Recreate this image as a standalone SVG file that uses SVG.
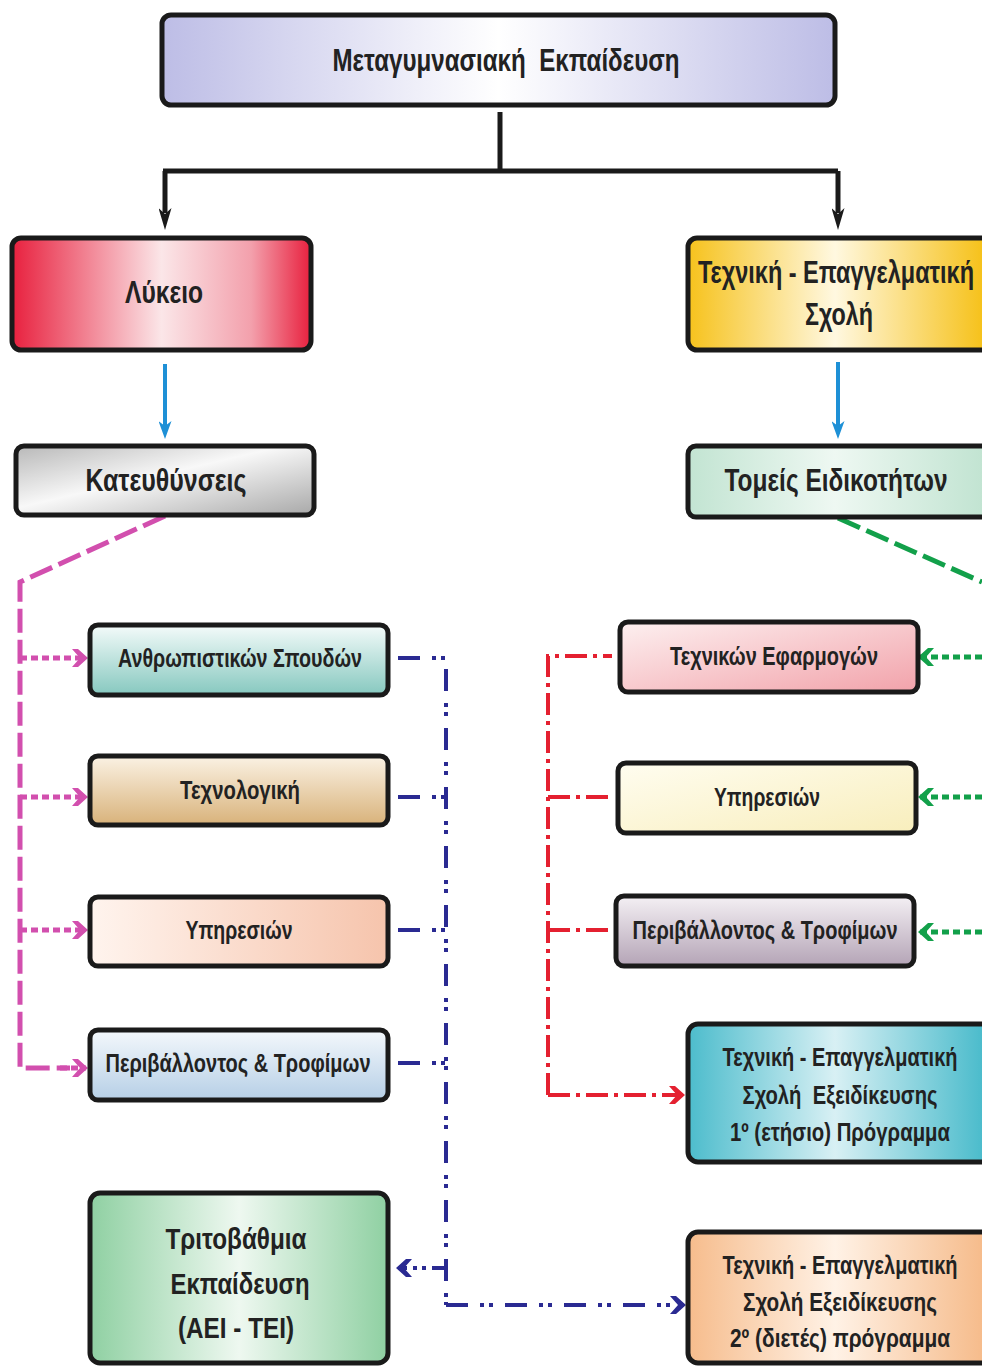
<svg xmlns="http://www.w3.org/2000/svg" width="982" height="1368" viewBox="0 0 982 1368">
<defs>
<linearGradient id="gLav" x1="0" y1="0" x2="1" y2="0"><stop offset="0" stop-color="#bdbde6"/><stop offset="0.5" stop-color="#ffffff"/><stop offset="1" stop-color="#bdbde6"/></linearGradient>
<linearGradient id="gRed" x1="0" y1="0" x2="1" y2="0"><stop offset="0" stop-color="#e8203e"/><stop offset="0.5" stop-color="#fbe6e8"/><stop offset="0.8" stop-color="#f3a0ac"/><stop offset="1" stop-color="#e8203e"/></linearGradient>
<linearGradient id="gYel" x1="0" y1="0" x2="1" y2="0"><stop offset="0" stop-color="#f6c21c"/><stop offset="0.5" stop-color="#fff8e0"/><stop offset="1" stop-color="#f6c21c"/></linearGradient>
<linearGradient id="gGrey" x1="0" y1="0" x2="1" y2="1"><stop offset="0" stop-color="#b8b8b8"/><stop offset="0.45" stop-color="#f8f8f8"/><stop offset="1" stop-color="#a8a8a8"/></linearGradient>
<linearGradient id="gMint" x1="0" y1="0" x2="1" y2="0"><stop offset="0" stop-color="#c2e4d2"/><stop offset="0.5" stop-color="#eef8f2"/><stop offset="1" stop-color="#c2e4d2"/></linearGradient>
<linearGradient id="gTeal" x1="0" y1="0" x2="0" y2="1"><stop offset="0" stop-color="#f4fbfa"/><stop offset="1" stop-color="#86c8bf"/></linearGradient>
<linearGradient id="gTan" x1="0" y1="0" x2="0" y2="1"><stop offset="0" stop-color="#fbf2e4"/><stop offset="1" stop-color="#d8b27a"/></linearGradient>
<linearGradient id="gPeach" x1="0" y1="0" x2="1" y2="0"><stop offset="0" stop-color="#fff4ee"/><stop offset="1" stop-color="#f6c4ac"/></linearGradient>
<linearGradient id="gSky" x1="0" y1="0" x2="0" y2="1"><stop offset="0" stop-color="#f4f8fc"/><stop offset="1" stop-color="#b6cfe6"/></linearGradient>
<linearGradient id="gGreen" x1="0" y1="0" x2="1" y2="0"><stop offset="0" stop-color="#8fd0a2"/><stop offset="0.5" stop-color="#eef8f0"/><stop offset="1" stop-color="#8fd0a2"/></linearGradient>
<linearGradient id="gPink" x1="0" y1="0" x2="1" y2="1"><stop offset="0" stop-color="#fdf0f0"/><stop offset="1" stop-color="#f2a2aa"/></linearGradient>
<linearGradient id="gCream" x1="0" y1="0" x2="1" y2="1"><stop offset="0" stop-color="#fffdf0"/><stop offset="1" stop-color="#f8eebc"/></linearGradient>
<linearGradient id="gMauve" x1="0" y1="0" x2="0" y2="1"><stop offset="0" stop-color="#f4f0f4"/><stop offset="1" stop-color="#b4a4b6"/></linearGradient>
<linearGradient id="gCyan" x1="0" y1="0" x2="1" y2="0"><stop offset="0" stop-color="#4cbccc"/><stop offset="0.5" stop-color="#d8f0f4"/><stop offset="1" stop-color="#4cbccc"/></linearGradient>
<linearGradient id="gOrange" x1="0" y1="0" x2="1" y2="0"><stop offset="0" stop-color="#f6bc8c"/><stop offset="0.5" stop-color="#fff2e6"/><stop offset="1" stop-color="#f6bc8c"/></linearGradient>
<marker id="mBlack" markerUnits="userSpaceOnUse" markerWidth="22" markerHeight="13" refX="5" refY="6.5" viewBox="0 0 22 13" orient="auto"><path d="M0,0 L22,6.5 L0,13 L6,6.5 z" fill="#1a1a1a"/></marker>
<marker id="mBlue" markerUnits="userSpaceOnUse" markerWidth="18" markerHeight="13" refX="5" refY="6.5" viewBox="0 0 18 13" orient="auto"><path d="M0,0 L18,6.5 L0,13 L5,6.5 z" fill="#1e90d6"/></marker>
<marker id="mMag" markerUnits="userSpaceOnUse" markerWidth="16" markerHeight="18" refX="14" refY="9" viewBox="0 0 16 18" orient="auto"><path d="M0,0 L6,0 L16,9 L6,18 L0,18 L8,9 z" fill="#d24fae"/></marker>
<marker id="mGreen" markerUnits="userSpaceOnUse" markerWidth="16" markerHeight="18" refX="14" refY="9" viewBox="0 0 16 18" orient="auto"><path d="M0,0 L6,0 L16,9 L6,18 L0,18 L8,9 z" fill="#12a04a"/></marker>
<marker id="mRed" markerUnits="userSpaceOnUse" markerWidth="16" markerHeight="18" refX="14" refY="9" viewBox="0 0 16 18" orient="auto"><path d="M0,0 L6,0 L16,9 L6,18 L0,18 L8,9 z" fill="#e42030"/></marker>
<marker id="mNavy" markerUnits="userSpaceOnUse" markerWidth="16" markerHeight="18" refX="14" refY="9" viewBox="0 0 16 18" orient="auto"><path d="M0,0 L6,0 L16,9 L6,18 L0,18 L8,9 z" fill="#2a2a92"/></marker>
</defs>
<style>
.box{stroke:#1a1a1a;stroke-width:5}
.t{font-family:"Liberation Sans",Arial,sans-serif;font-weight:bold;fill:#222;text-anchor:middle}
.big{font-size:32px}
.mid{font-size:30px}
.sm{font-size:26px}
.nb{font-size:22px}
.ns{font-size:18px}
.blk{stroke:#1a1a1a;stroke-width:5;fill:none}
.blu{stroke:#1e90d6;stroke-width:4;fill:none}
.mag{stroke:#d24fae;stroke-width:5;fill:none}
.magd{stroke:#d24fae;stroke-width:5;fill:none;stroke-dasharray:7 4}
.grn{stroke:#12a04a;stroke-width:5;fill:none}
.grnd{stroke:#12a04a;stroke-width:5;fill:none;stroke-dasharray:7 4}
.red{stroke:#e42030;stroke-width:4;fill:none;stroke-dasharray:22 6 4 6}
.navy{stroke:#2a2a92;stroke-width:4;fill:none;stroke-dasharray:22 12 4 5 4 12}
</style>
<rect width="982" height="1368" fill="#ffffff"/>

<g id="connectors">
<path class="blk" d="M500,112 V171"/>
<path class="blk" d="M163,171 H838"/>
<path class="blk" d="M165,171 V213" marker-end="url(#mBlack)"/>
<path class="blk" d="M838,171 V213" marker-end="url(#mBlack)"/>
<path class="blu" d="M165,364 V426" marker-end="url(#mBlue)"/>
<path class="blu" d="M838,362 V426" marker-end="url(#mBlue)"/>
<path class="mag" style="stroke-dasharray:24 7" d="M165,516 L20,582 V1068 H70"/>
<path class="magd" d="M20,658 H86" marker-end="url(#mMag)"/>
<path class="magd" d="M20,797 H86" marker-end="url(#mMag)"/>
<path class="magd" d="M20,930 H86" marker-end="url(#mMag)"/>
<path class="magd" d="M60,1068 H86" marker-end="url(#mMag)"/>
<path class="grn" style="stroke-dasharray:24 7" d="M838,518 L982,582"/>
<path class="grnd" d="M982,657 H920" marker-end="url(#mGreen)"/>
<path class="grnd" d="M982,797 H920" marker-end="url(#mGreen)"/>
<path class="grnd" d="M982,932 H920" marker-end="url(#mGreen)"/>
<path class="red" d="M548,1095 V656 H612"/>
<path class="red" d="M548,797 H612"/>
<path class="red" d="M548,930 H612"/>
<path class="red" d="M548,1095 H683" marker-end="url(#mRed)"/>
<path class="navy" d="M398,658 H446 V1305"/>
<path class="navy" d="M398,797 H446"/>
<path class="navy" d="M398,930 H446"/>
<path class="navy" d="M398,1063 H446"/>
<path class="navy" style="stroke-dasharray:14 6 4 5 4 6" d="M446,1268 H398" marker-end="url(#mNavy)"/>
<path class="navy" d="M446,1305 H684" marker-end="url(#mNavy)"/>
</g>

<g id="n-metagym"><rect class="box" x="162" y="15" width="673" height="90" rx="9" fill="url(#gLav)"/><text class="t big" x="506" y="71" textLength="347" lengthAdjust="spacingAndGlyphs" xml:space="preserve">Μεταγυμνασιακή  Εκπαίδευση</text></g>
<g id="n-lykeio"><rect class="box" x="12" y="238" width="299" height="112" rx="9" fill="url(#gRed)"/><text class="t big" x="164" y="303" textLength="78" lengthAdjust="spacingAndGlyphs">Λύκειο</text></g>
<g id="n-tes"><path class="box" d="M982,238 H697 A9,9 0 0 0 688,247 V341 A9,9 0 0 0 697,350 H982" fill="url(#gYel)"/>
<g transform="translate(836,283) scale(1,1.4545)"><text class="t nb" x="0" y="0" textLength="276" lengthAdjust="spacingAndGlyphs">Τεχνική - Επαγγελματική</text></g>
<g transform="translate(839,325) scale(1,1.4545)"><text class="t nb" x="0" y="0" textLength="68" lengthAdjust="spacingAndGlyphs">Σχολή</text></g></g>
<g id="n-kateuth"><rect class="box" x="16" y="446" width="298" height="69" rx="8" fill="url(#gGrey)"/><text class="t big" x="166" y="491" textLength="161" lengthAdjust="spacingAndGlyphs">Κατευθύνσεις</text></g>
<g id="n-tomeis"><path class="box" d="M982,446 H696 A8,8 0 0 0 688,454 V509 A8,8 0 0 0 696,517 H982" fill="url(#gMint)"/>
<g transform="translate(836,491) scale(1,1.4545)"><text class="t nb" x="0" y="0" textLength="223" lengthAdjust="spacingAndGlyphs">Τομείς Ειδικοτήτων</text></g></g>
<g id="n-anthr"><rect class="box" x="90" y="625" width="298" height="70" rx="8" fill="url(#gTeal)"/><text class="t sm" x="240" y="667" textLength="244" lengthAdjust="spacingAndGlyphs">Ανθρωπιστικών Σπουδών</text></g>
<g id="n-techn"><rect class="box" x="90" y="756" width="298" height="69" rx="8" fill="url(#gTan)"/><text class="t sm" x="240" y="799" textLength="120" lengthAdjust="spacingAndGlyphs">Τεχνολογική</text></g>
<g id="n-yp-l"><rect class="box" x="90" y="897" width="298" height="69" rx="8" fill="url(#gPeach)"/><text class="t sm" x="239" y="939" textLength="107" lengthAdjust="spacingAndGlyphs">Υπηρεσιών</text></g>
<g id="n-per-l"><rect class="box" x="90" y="1030" width="298" height="70" rx="8" fill="url(#gSky)"/><text class="t sm" x="238" y="1072" textLength="265" lengthAdjust="spacingAndGlyphs">Περιβάλλοντος &amp; Τροφίμων</text></g>
<g id="n-trito"><rect class="box" x="90" y="1193" width="298" height="170" rx="10" fill="url(#gGreen)"/><text class="t mid" x="236" y="1249" textLength="141" lengthAdjust="spacingAndGlyphs">Τριτοβάθμια</text><text class="t mid" x="240" y="1294" textLength="139" lengthAdjust="spacingAndGlyphs">Εκπαίδευση</text><text class="t mid" x="236" y="1338" textLength="116" lengthAdjust="spacingAndGlyphs">(ΑΕΙ - ΤΕΙ)</text></g>
<g id="n-tefarm"><rect class="box" x="620" y="622" width="298" height="70" rx="8" fill="url(#gPink)"/><text class="t sm" x="774" y="665" textLength="208" lengthAdjust="spacingAndGlyphs">Τεχνικών Εφαρμογών</text></g>
<g id="n-yp-r"><rect class="box" x="618" y="763" width="298" height="70" rx="8" fill="url(#gCream)"/><text class="t sm" x="767" y="806" textLength="106" lengthAdjust="spacingAndGlyphs">Υπηρεσιών</text></g>
<g id="n-per-r"><rect class="box" x="616" y="896" width="298" height="70" rx="8" fill="url(#gMauve)"/><text class="t sm" x="765" y="939" textLength="265" lengthAdjust="spacingAndGlyphs">Περιβάλλοντος &amp; Τροφίμων</text></g>
<g id="n-tes1"><path class="box" d="M982,1024 H698 A10,10 0 0 0 688,1034 V1152 A10,10 0 0 0 698,1162 H982" fill="url(#gCyan)"/>
<g transform="translate(840,1066) scale(1,1.4444)"><text class="t ns" x="0" y="0" textLength="235" lengthAdjust="spacingAndGlyphs">Τεχνική - Επαγγελματική</text></g>
<g transform="translate(840,1104) scale(1,1.4444)"><text class="t ns" x="0" y="0" textLength="195" lengthAdjust="spacingAndGlyphs" xml:space="preserve">Σχολή  Εξειδίκευσης</text></g>
<g transform="translate(840,1141) scale(1,1.4444)"><text class="t ns" x="0" y="0" textLength="220" lengthAdjust="spacingAndGlyphs">1º (ετήσιο) Πρόγραμμα</text></g></g>
<g id="n-tes2"><path class="box" d="M982,1232 H698 A10,10 0 0 0 688,1242 V1353 A10,10 0 0 0 698,1363 H982" fill="url(#gOrange)"/>
<g transform="translate(840,1274) scale(1,1.4444)"><text class="t ns" x="0" y="0" textLength="235" lengthAdjust="spacingAndGlyphs">Τεχνική - Επαγγελματική</text></g>
<g transform="translate(840,1311) scale(1,1.4444)"><text class="t ns" x="0" y="0" textLength="194" lengthAdjust="spacingAndGlyphs">Σχολή Εξειδίκευσης</text></g>
<g transform="translate(840,1347) scale(1,1.4444)"><text class="t ns" x="0" y="0" textLength="220" lengthAdjust="spacingAndGlyphs">2º (διετές) πρόγραμμα</text></g></g>
</svg>
